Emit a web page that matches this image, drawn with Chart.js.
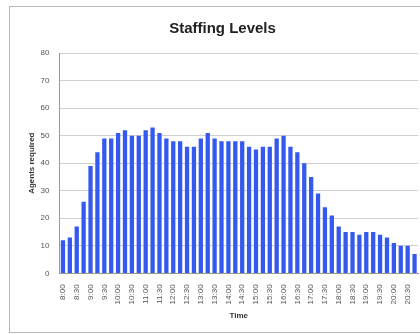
<!DOCTYPE html>
<html>
<head>
<meta charset="utf-8">
<script src="https://cdn.jsdelivr.net/npm/chart.js@4"></script>
<style>
  body { margin: 0; background: #fff; }
  #wrap { position: relative; width: 420px; height: 334px; }
  #frame { position: absolute; left: 9px; top: 6px; width: 420px; height: 325px; border: 1px solid #b8b8b8; pointer-events: none; }
</style>
</head>
<body>
<div id="wrap">
  <canvas id="mychart" width="420" height="334"></canvas>
  <div id="frame"></div>
</div>
<script>
// 15 minute slots, 8:00 - 20:45
const times = [
  '8:00','8:15','8:30','8:45','9:00','9:15','9:30','9:45',
  '10:00','10:15','10:30','10:45','11:00','11:15','11:30','11:45',
  '12:00','12:15','12:30','12:45','13:00','13:15','13:30','13:45',
  '14:00','14:15','14:30','14:45','15:00','15:15','15:30','15:45',
  '16:00','16:15','16:30','16:45','17:00','17:15','17:30','17:45',
  '18:00','18:15','18:30','18:45','19:00','19:15','19:30','19:45',
  '20:00','20:15','20:30','20:45'
];
const agents = [
  12, 13, 17, 26, 39, 44, 49, 49,
  51, 52, 50, 50, 52, 53, 51, 49,
  48, 48, 46, 46, 49, 51, 49, 48,
  48, 48, 48, 46, 45, 46, 46, 49,
  50, 46, 44, 40, 35, 29, 24, 21,
  17, 15, 15, 14, 15, 15, 14, 13,
  11, 10, 10, 7
];

const font = "'Liberation Sans', Arial, sans-serif";
const ctx = document.querySelector('#mychart');

new Chart(ctx, {
  type: 'bar',
  data: {
    labels: times,
    datasets: [{
      label: 'Agents required',
      data: agents,
      backgroundColor: '#3459ef',
      barPercentage: 0.62,
      categoryPercentage: 1
    }]
  },
  options: {
    responsive: false,
    animation: false,
    layout: { padding: { left: 27, right: 2, top: 20, bottom: 13 } },
    plugins: {
      legend: { display: false },
      tooltip: { enabled: false },
      title: {
        display: true,
        text: 'Staffing Levels',
        color: '#222',
        font: { family: font, size: 15, weight: 'bold' },
        padding: { top: 0, bottom: 15 }
      }
    },
    scales: {
      x: {
        grid: { display: false },
        border: { color: '#999' },
        afterFit: function(s) { s.paddingRight = 0; },
        ticks: {
          autoSkip: false,
          maxRotation: 90,
          minRotation: 90,
          color: '#555',
          padding: 3,
          font: { family: font, size: 8 },
          callback: function(v, i) { return i % 2 === 0 ? times[i] : ''; }
        },
        title: {
          display: true,
          text: 'Time',
          color: '#333',
          font: { family: font, size: 8, weight: 'bold' },
          padding: { top: 4, bottom: 0 }
        }
      },
      y: {
        min: 0,
        max: 80,
        grid: { color: '#cfcfcf', drawTicks: false },
        border: { color: '#999' },
        afterFit: function(s) { s.width -= 10; },
        ticks: {
          stepSize: 10,
          color: '#555',
          padding: 10,
          font: { family: font, size: 8 }
        },
        title: {
          display: true,
          text: 'Agents required',
          color: '#333',
          font: { family: font, size: 8, weight: 'bold' },
          padding: { top: 0, bottom: 4 }
        }
      }
    }
  }
});
</script>
</body>
</html>
